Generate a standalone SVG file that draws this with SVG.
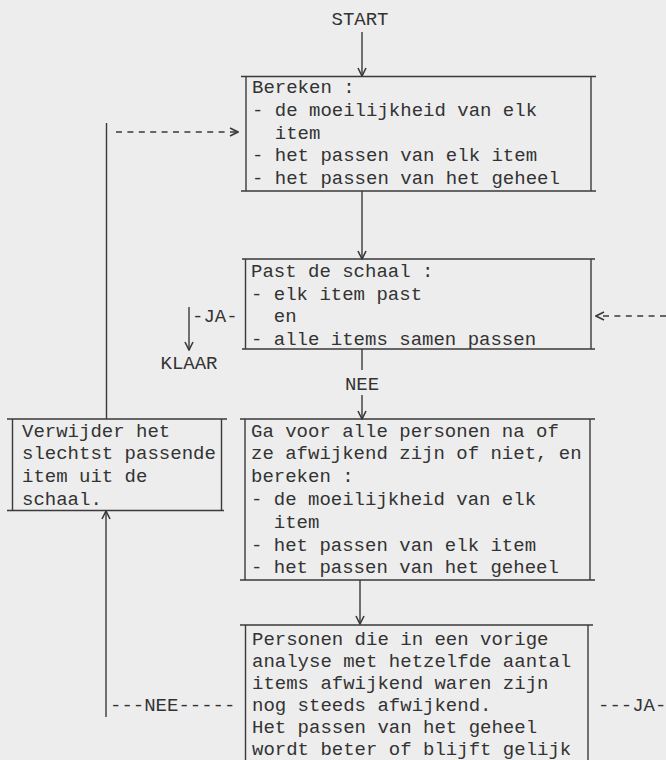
<svg xmlns="http://www.w3.org/2000/svg" width="666" height="760" viewBox="0 0 666 760">
<style>
  text { font-family: "Liberation Mono", "Courier New", monospace; font-size: 19px; fill: #333; white-space: pre; }
  .ln { stroke: #3a3a3a; stroke-width: 1.4; fill: none; }
  .dash { stroke: #3a3a3a; stroke-width: 1.6; fill: none; stroke-dasharray: 6 5.4; }
</style>
<defs>
  <marker id="ah" viewBox="0 0 10 10" refX="9" refY="5" markerWidth="10" markerHeight="10" markerUnits="userSpaceOnUse" orient="auto">
    <path d="M1,1 L9,5 L1,9" fill="none" stroke="#3a3a3a" stroke-width="1.6"/>
  </marker>
</defs>
<rect width="666" height="760" fill="#ededed"/>

<g id="start">
  <text x="360" y="25" text-anchor="middle">START</text>
</g>

<g id="box-bereken">
  <path class="ln" d="M241,76.5 H596 M241,191 H596 M246,76.5 V191 M591,76.5 V191"/>
  <text x="252" y="93">Bereken :</text>
  <text x="252" y="115.8">- de moeilijkheid van elk</text>
  <text x="252" y="138.6" xml:space="preserve">  item</text>
  <text x="252" y="161.4">- het passen van elk item</text>
  <text x="252" y="184.2">- het passen van het geheel</text>
</g>

<g id="box-past">
  <path class="ln" d="M242,259 H595 M242,349 H595 M245.5,259 V349 M591,259 V349"/>
  <text x="251" y="277">Past de schaal :</text>
  <text x="251" y="299.5">- elk item past</text>
  <text x="251" y="322" xml:space="preserve">  en</text>
  <text x="251" y="344.5">- alle items samen passen</text>
</g>

<g id="klaar">
  <text x="189" y="369" text-anchor="middle">KLAAR</text>
</g>

<g id="box-ga">
  <path class="ln" d="M240,419 H595 M240,580 H595 M245,419 V580 M590,419 V580"/>
  <text x="251" y="436.5">Ga voor alle personen na of</text>
  <text x="251" y="459.3">ze afwijkend zijn of niet, en</text>
  <text x="251" y="482.1">bereken :</text>
  <text x="251" y="504.9">- de moeilijkheid van elk</text>
  <text x="251" y="527.7" xml:space="preserve">  item</text>
  <text x="251" y="550.5">- het passen van elk item</text>
  <text x="251" y="573.3">- het passen van het geheel</text>
</g>

<g id="box-verwijder">
  <path class="ln" d="M7,419 H227 M7,510.5 H224 M12.5,419 V510.5 M221.5,419 V510.5"/>
  <text x="22" y="436.5">Verwijder het</text>
  <text x="22" y="459.3">slechtst passende</text>
  <text x="22" y="482.1">item uit de</text>
  <text x="22" y="504.9">schaal.</text>
</g>

<g id="box-personen">
  <path class="ln" d="M240,625 H593 M245.5,625 V760 M588,625 V760"/>
  <text x="252" y="645">Personen die in een vorige</text>
  <text x="252" y="667">analyse met hetzelfde aantal</text>
  <text x="252" y="689">items afwijkend waren zijn</text>
  <text x="252" y="711">nog steeds afwijkend.</text>
  <text x="252" y="733">Het passen van het geheel</text>
  <text x="252" y="755">wordt beter of blijft gelijk</text>
</g>

<g id="connectors">
  <line class="ln" x1="362" y1="32" x2="362" y2="76" marker-end="url(#ah)"/>
  <line class="ln" x1="362" y1="191" x2="362" y2="259" marker-end="url(#ah)"/>
  <line class="ln" x1="362" y1="349" x2="362" y2="370"/>
  <text x="362" y="390" text-anchor="middle">NEE</text>
  <line class="ln" x1="362" y1="395" x2="362" y2="419" marker-end="url(#ah)"/>
  <line class="ln" x1="360" y1="580" x2="360" y2="624" marker-end="url(#ah)"/>
  <line class="ln" x1="189" y1="307" x2="189" y2="350" marker-end="url(#ah)"/>
  <text x="192" y="322">-JA-</text>
  <line class="ln" x1="106.5" y1="123" x2="106.5" y2="419"/>
  <line class="dash" x1="116" y1="132" x2="238" y2="132" marker-end="url(#ah)"/>
  <line class="dash" x1="666" y1="316" x2="596" y2="316" marker-end="url(#ah)"/>
  <line class="ln" x1="106" y1="717" x2="106" y2="511" marker-end="url(#ah)"/>
  <text x="110" y="711">---NEE-----</text>
  <text x="598" y="711">---JA-</text>
</g>
</svg>
